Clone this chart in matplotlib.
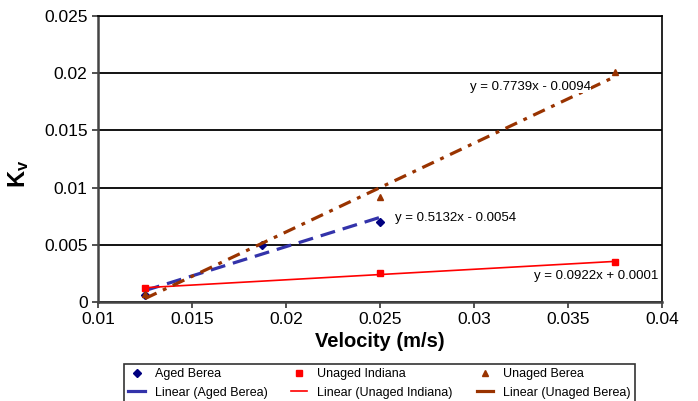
import numpy as np
import matplotlib
matplotlib.use("Agg")
import matplotlib.pyplot as plt

plt.rcParams['font.family'] = ['Liberation Sans', 'DejaVu Sans']
plt.rcParams['mathtext.fontset'] = 'custom'
plt.rcParams['mathtext.rm'] = 'Liberation Sans'
plt.rcParams['mathtext.bf'] = 'Liberation Sans:bold'

# data
aged_berea_x = [0.0125, 0.01875, 0.025]
aged_berea_y = [0.0006, 0.005, 0.007]
indiana_x = [0.0125, 0.025, 0.0375]
indiana_y = [0.0012, 0.0025, 0.0035]
unaged_berea_x = [0.0125, 0.025, 0.0375]
unaged_berea_y = [0.0007, 0.0092, 0.0201]

eq_labels = ["y = 0.5132x - 0.0054", "y = 0.0922x + 0.0001", "y = 0.7739x - 0.0094"]


def fit_line(x, y):
    k, b = np.polyfit(x, y, 1)
    xs = np.array([min(x), max(x)])
    return xs, k * xs + b


fig = plt.figure(figsize=(6.98, 4.01), dpi=100)
ax = fig.add_axes([0.1404, 0.2469, 0.808, 0.7131])

c_aged = '#000080'
c_aged_line = '#3333aa'
c_ind = '#ff0000'
c_unaged = '#993300'

h1, = ax.plot(aged_berea_x, aged_berea_y, 'D', color=c_aged, ms=4.5, ls='none', label='Aged Berea')
fx, fy = fit_line(aged_berea_x, aged_berea_y)
h2, = ax.plot(fx, fy, color=c_aged_line, lw=2.3, dashes=(4.7, 2.5), label='Linear (Aged Berea)')

h3, = ax.plot(indiana_x, indiana_y, 's', color=c_ind, ms=5, ls='none', label='Unaged Indiana')
fx, fy = fit_line(indiana_x, indiana_y)
h4, = ax.plot(fx, fy, color=c_ind, lw=1.2, label='Linear (Unaged Indiana)')

h5, = ax.plot(unaged_berea_x, unaged_berea_y, '^', color=c_unaged, ms=5, ls='none', label='Unaged Berea')
fx, fy = fit_line(unaged_berea_x, unaged_berea_y)
h6, = ax.plot(fx, fy, color=c_unaged, lw=2.3, dashes=(4, 2.2, 1.2, 2.2), label='Linear (Unaged Berea)')

ax.text(0.0258, 0.00734, eq_labels[0], fontsize=9.5, va='center', ha='left')
ax.text(0.0398, 0.00227, eq_labels[1], fontsize=9.5, va='center', ha='right')
ax.text(0.0362, 0.0188, eq_labels[2], fontsize=9.5, va='center', ha='right',
        bbox=dict(facecolor='white', edgecolor='none', pad=0.3))

ax.set_xlim(0.01, 0.04)
ax.set_ylim(0, 0.025)
ax.set_xticks(np.arange(0.01, 0.0401, 0.005))
ax.set_yticks(np.arange(0, 0.0251, 0.005))
ax.set_xticklabels(['0.01', '0.015', '0.02', '0.025', '0.03', '0.035', '0.04'])
ax.set_yticklabels(['0', '0.005', '0.01', '0.015', '0.02', '0.025'])
ax.tick_params(labelsize=12.5, direction='out', length=4, width=1.2, colors='#333333')
ax.tick_params(labelcolor='black')
ax.yaxis.grid(True, color='black', lw=1.3)
ax.set_axisbelow(True)
for s in ['top', 'right']:
    ax.spines[s].set_color('black')
    ax.spines[s].set_linewidth(1.2)
for s in ['left', 'bottom']:
    ax.spines[s].set_color('#444444')
    ax.spines[s].set_linewidth(1.8)

ax.set_xlabel('Velocity (m/s)', fontsize=14.5, fontweight='bold', labelpad=3)
ax.set_ylabel(r'$\mathbf{K_v}$', fontsize=17)
ax.yaxis.set_label_coords(-0.118, 0.45)

leg = fig.legend(handles=[h1, h2, h3, h4, h5, h6], ncol=3, fontsize=9,
                 loc='upper left', bbox_to_anchor=(124 / 698, 1 - 364 / 401),
                 borderaxespad=0, frameon=True, fancybox=False, edgecolor='black',
                 handlelength=1.3, handletextpad=0.8, columnspacing=1.9,
                 borderpad=0.35, labelspacing=0.5)
leg.get_frame().set_linewidth(1.2)
leg_lines = leg.get_lines()
for i in [1, 3, 5]:
    leg_lines[i].set_linestyle('-')

fig.savefig('out.png', dpi=100)
